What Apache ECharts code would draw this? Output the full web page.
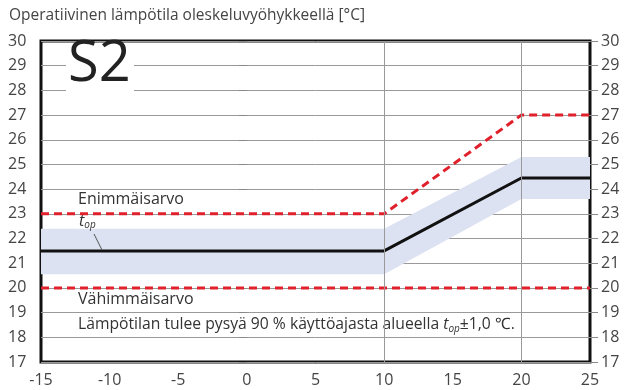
<!DOCTYPE html>
<html>
<head>
<meta charset="utf-8">
<script src="https://cdn.jsdelivr.net/npm/echarts@6/dist/echarts.min.js"></script>
<style>html,body{margin:0;padding:0;background:#fff}#c{width:632px;height:390px}</style>
</head>
<body>
<div id="c"></div>
<script>
var xValues = [-15, 10, 20, 25];
var topValues = [21.5, 21.5, 24.45, 24.45];
var bandLow = [20.55, 20.55, 23.6, 23.6];
var bandHigh = [22.4, 22.4, 25.3, 25.3];
var upperLimit = [23, 23, 27, 27];
var lowerLimit = [20, 20, 20, 20];
var vLines = [10, 20];
var yTicks = [17, 18, 19, 20, 21, 22, 23, 24, 25, 26, 27, 28, 29, 30];
var xTicks = [-15, -10, -5, 0, 5, 10, 15, 20, 25];

function pairs(ys) { return xValues.map(function (x, i) { return [x, ys[i]]; }); }
var bandData = xValues.map(function (x, i) { return [x, bandLow[i], bandHigh[i]]; });

var FONT = '"Open Sans", sans-serif';
var chart = echarts.init(document.getElementById('c'));
var yAxisBase = {
  type: 'value', min: yTicks[0], max: yTicks[yTicks.length - 1], interval: 1,
  axisLine: { show: false },
  axisTick: { show: true, length: 8, lineStyle: { color: '#888', width: 1 } },
  splitLine: { show: true, lineStyle: { color: '#999', width: 1 } },
  axisLabel: { color: '#444', fontSize: 16, fontFamily: FONT, margin: 6 }
};
chart.setOption({
  animation: false,
  grid: { left: 41, right: 42, top: 41, bottom: 28, show: true, borderColor: '#111', borderWidth: 3, backgroundColor: 'transparent' },
  xAxis: {
    type: 'value', min: xTicks[0], max: xTicks[xTicks.length - 1], interval: 5,
    axisLine: { show: false }, axisTick: { show: false }, splitLine: { show: false },
    axisLabel: { color: '#444', fontSize: 16, fontFamily: FONT, margin: 10 }
  },
  yAxis: [
    Object.assign({}, yAxisBase, { position: 'left', axisLabel: Object.assign({}, yAxisBase.axisLabel, { align: 'left', margin: 33 }) }),
    Object.assign({}, yAxisBase, { position: 'right', splitLine: { show: false }, axisLabel: Object.assign({}, yAxisBase.axisLabel, { margin: 11 }) })
  ],
  series: [
    { type: 'custom', data: bandData, silent: true, z: 1,
      renderItem: function (params, api) {
        if (params.dataIndex !== 0) return null;
        var pts = [], i;
        for (i = 0; i < bandData.length; i++) pts.push(api.coord([bandData[i][0], bandData[i][1]]));
        for (i = bandData.length - 1; i >= 0; i--) pts.push(api.coord([bandData[i][0], bandData[i][2]]));
        return { type: 'polygon', shape: { points: pts }, style: { fill: '#dde2f2' } };
      },
      markLine: { silent: true, symbol: 'none', label: { show: false }, lineStyle: { color: '#999', width: 1, type: 'solid' },
        data: vLines.map(function (v) { return { xAxis: v }; }) } },
    { type: 'line', data: pairs(upperLimit), symbol: 'none', lineStyle: { color: '#e0202a', width: 3, type: [8, 5] }, z: 3 },
    { type: 'line', data: pairs(lowerLimit), symbol: 'none', lineStyle: { color: '#e0202a', width: 3, type: [8, 5] }, z: 3 },
    { type: 'line', data: pairs(topValues), symbol: 'none', lineStyle: { color: '#111', width: 3 }, z: 4 }
  ],
  graphic: [
    { type: 'text', left: 9, top: 8, style: { text: 'Operatiivinen lämpötila oleskeluvyöhykkeellä [°C]', font: '15.5px ' + FONT, fill: '#444' } },
    { type: 'rect', shape: { x: 66, y: 44, width: 68, height: 50 }, style: { fill: '#fff' }, z: 2 },
    { type: 'text', left: 68, top: 37, z: 2, style: { text: 'S2', font: '56px ' + FONT, fill: '#222' } },
    { type: 'text', left: 76, top: 191, z: 2, style: { text: 'Enimmäisarvo', font: '16px ' + FONT, fill: '#333', backgroundColor: '#fff', padding: [0, 2] } },
    { type: 'text', left: 76, top: 291, z: 2, style: { text: 'Vähimmäisarvo', font: '16px ' + FONT, fill: '#333', backgroundColor: '#fff', padding: [0, 2] } },
    { type: 'text', left: 79, top: 213, z: 5, style: { rich: { t: { font: 'italic 16px ' + FONT, fill: '#333' }, s: { font: 'italic 10px ' + FONT, fill: '#333', padding: [8, 0, 0, 0] } }, text: '{t|t}{s|op}' } },
    { type: 'line', z: 5, shape: { x1: 94, y1: 234, x2: 102, y2: 250 }, style: { stroke: '#555', lineWidth: 1 } },
    { type: 'text', left: 76, top: 316, z: 2, style: { backgroundColor: '#fff', padding: [0, 2],
        rich: { a: { font: '15.7px ' + FONT, fill: '#333' }, t: { font: 'italic 15.7px ' + FONT, fill: '#333' }, s: { font: 'italic 10px ' + FONT, fill: '#333', padding: [8, 0, 0, 0] } },
        text: '{a|Lämpötilan tulee pysyä 90 % käyttöajasta alueella }{t|t}{s|op}{a|±1,0 ℃.}' } }
  ]
});
</script>
</body>
</html>
